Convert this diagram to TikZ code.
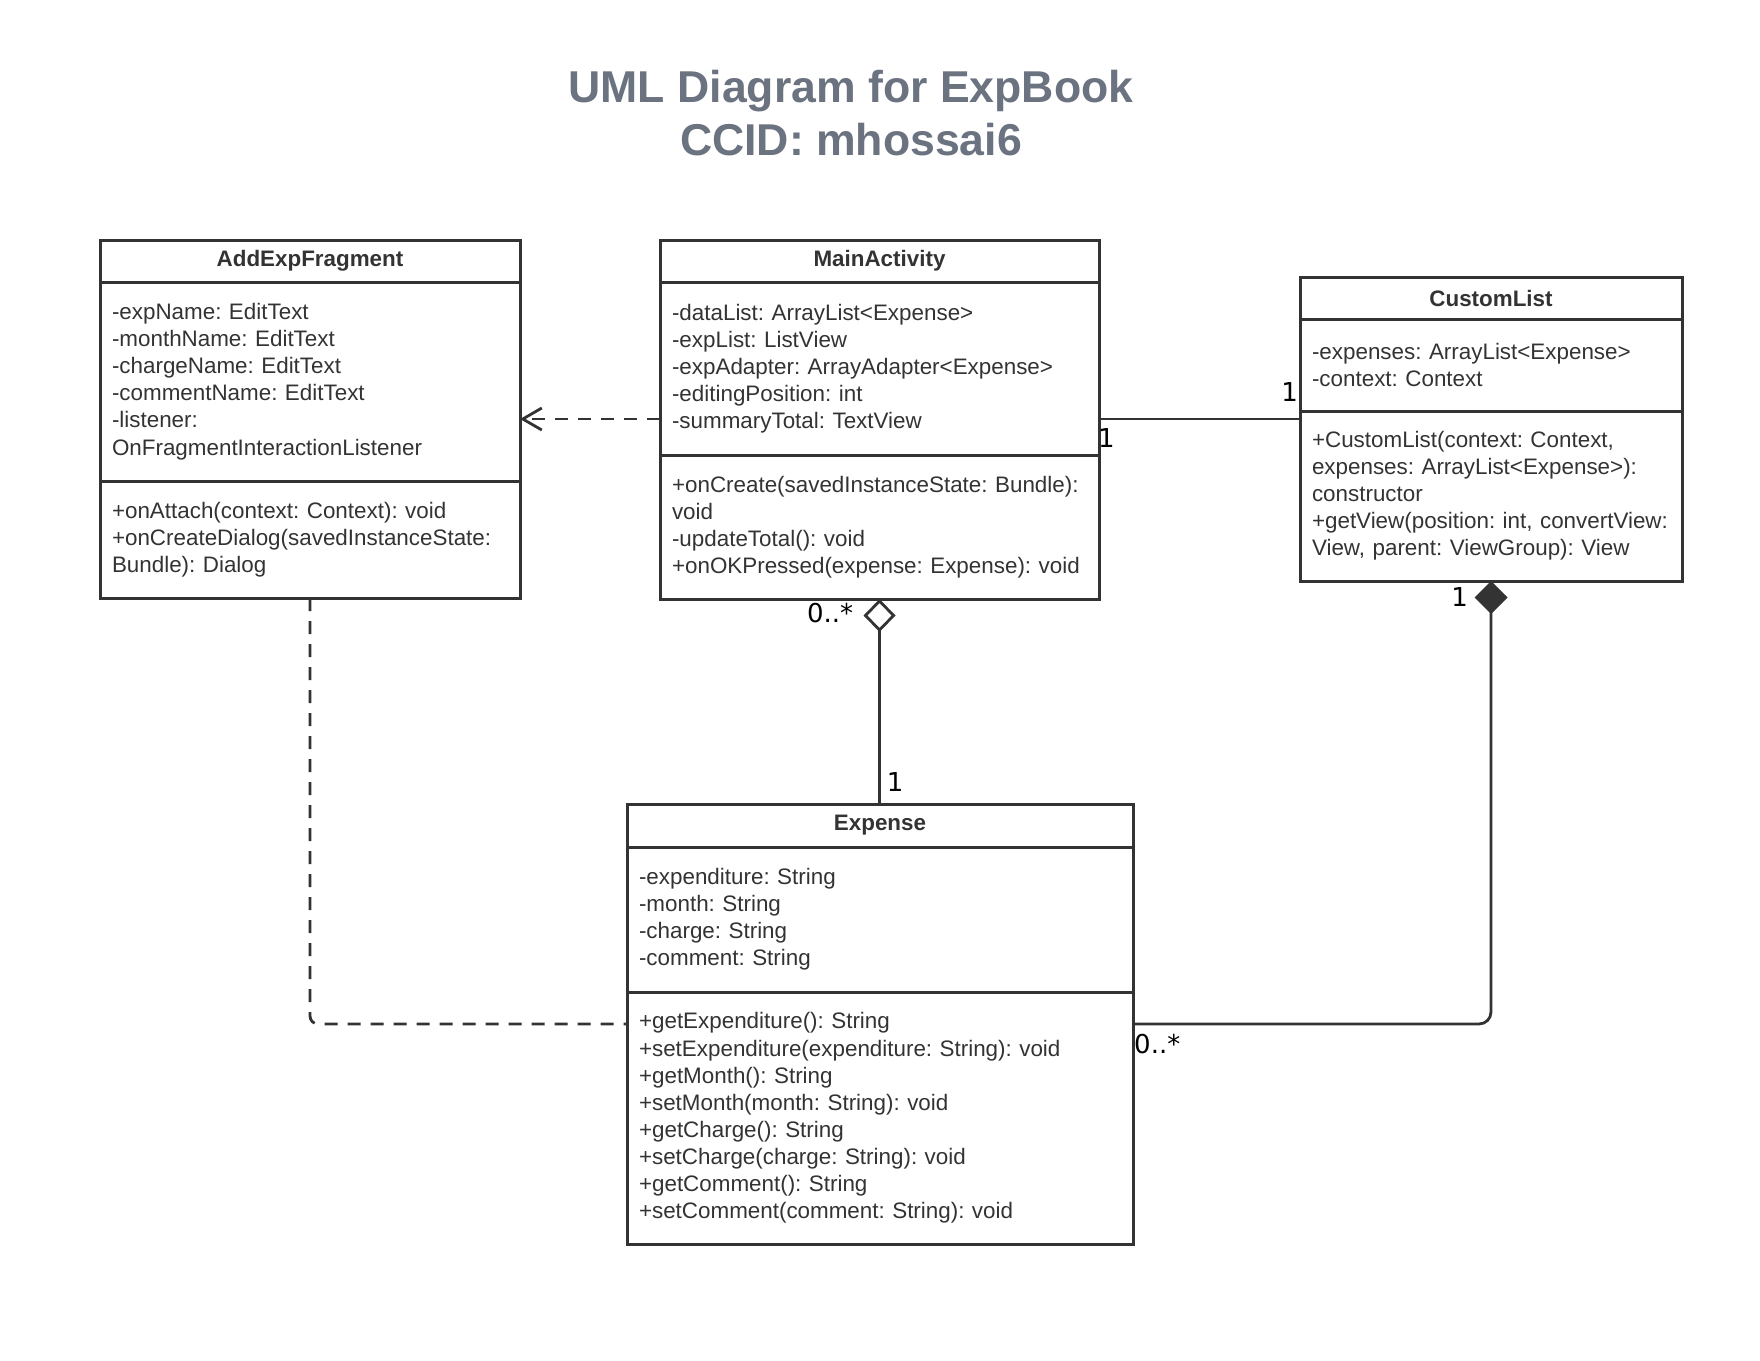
\documentclass[tikz,border=0pt]{standalone}
\usepackage{fontspec}
\setmainfont{Liberation Sans}
\newfontfamily\multfont{DejaVu Sans}
\usetikzlibrary{positioning,arrows.meta,calc}
\definecolor{umlline}{HTML}{333333}
\definecolor{titlegray}{HTML}{6B7280}

\begin{document}
\frenchspacing
\begin{tikzpicture}[x=1pt,y=-1pt,
	head/.style={draw=umlline,line width=3pt,outer sep=0pt,inner xsep=12pt,inner ysep=4pt,anchor=north west,
		minimum height=42pt,align=center,text=umlline,font=\fontsize{22.4}{27.1}\selectfont\bfseries},
	part/.style={draw=umlline,line width=3pt,outer sep=0pt,inner xsep=12pt,inner ysep=8pt,anchor=north,
		align=left,text=umlline,font=\fontsize{22.4}{27.1}\selectfont},
	mult/.style={font=\multfont\fontsize{26}{30}\selectfont,text=black,inner sep=1pt},
	conn/.style={draw=umlline,line width=2.8pt},
	dep/.style={conn,dash pattern=on 13pt off 10pt}]
\useasboundingbox (0,0) rectangle (1760,1360);

\node[font=\fontsize{44.6}{53}\selectfont\bfseries,text=titlegray,align=center] (title) at (851,113)
	{UML Diagram for ExpBook\\CCID: mhossai6};

\node[head,text width=396pt] (af) at (100,240) {AddExpFragment};
\node[part,text width=396pt,minimum height=199pt,below=0pt of af] (af-attr)
	{-expName: EditText\\-monthName: EditText\\-chargeName: EditText\\-commentName: EditText\\-listener:\\OnFragmentInteractionListener};
\node[part,text width=396pt,minimum height=117pt,below=0pt of af-attr] (af-meth)
	{+onAttach(context: Context): void\\+onCreateDialog(savedInstanceState:\\Bundle): Dialog};

\node[head,text width=415pt] (ma) at (660,240) {MainActivity};
\node[part,text width=415pt,minimum height=173pt,below=0pt of ma] (ma-attr)
	{-dataList: ArrayList<Expense>\\-expList: ListView\\-expAdapter: ArrayAdapter<Expense>\\-editingPosition: int\\-summaryTotal: TextView};
\node[part,text width=415pt,minimum height=144pt,below=0pt of ma-attr] (ma-meth)
	{+onCreate(savedInstanceState: Bundle):\\void\\-updateTotal(): void\\+onOKPressed(expense: Expense): void};

\node[head,text width=358pt] (cl) at (1300,277) {CustomList};
\node[part,text width=358pt,minimum height=92pt,below=0pt of cl] (cl-attr)
	{-expenses: ArrayList<Expense>\\-context: Context};
\node[part,text width=358pt,minimum height=170pt,below=0pt of cl-attr] (cl-meth)
	{+CustomList(context: Context,\\expenses: ArrayList<Expense>):\\constructor\\+getView(position: int, convertView:\\View, parent: ViewGroup): View};

\node[head,text width=482pt,minimum height=43pt] (ex) at (627,804) {Expense};
\node[part,text width=482pt,minimum height=145pt,below=0pt of ex] (ex-attr)
	{-expenditure: String\\-month: String\\-charge: String\\-comment: String};
\node[part,text width=482pt,minimum height=252pt,below=0pt of ex-attr] (ex-meth)
	{+getExpenditure(): String\\+setExpenditure(expenditure: String): void\\+getMonth(): String\\+setMonth(month: String): void\\+getCharge(): String\\+setCharge(charge: String): void\\+getComment(): String\\+setComment(comment: String): void};

\coordinate (dl) at ([yshift=36pt]ma-attr.south west);
\coordinate (al) at ([yshift=36pt]ma-attr.south east);
\coordinate (el) at ([yshift=-32pt]ex-meth.north west);
\coordinate (er) at ([yshift=-32pt]ex-meth.north east);

\draw[dep,-{Straight Barb[length=19pt,width=22pt]}] (dl) -- (dl -| af-attr.east);
\draw[conn,line width=2.4pt] (al) -- (al -| cl-meth.west)
	node[mult,pos=0,anchor=north west,xshift=-3pt,yshift=-7pt]{1}
	node[mult,pos=1,anchor=south east,yshift=15pt]{1};
\draw[conn,{Diamond[open,fill=white,length=33pt,width=32pt]}-] (ma-meth.south) -- (ma-meth.south |- ex.north)
	node[mult,pos=0,anchor=north east,xshift=-24pt,yshift=-2pt]{0..*}
	node[mult,pos=1,anchor=south west,xshift=5pt,yshift=10pt]{1};
\draw[conn,rounded corners=12pt,{Diamond[length=33pt,width=33pt]}-] (cl-meth.south) |- (er);
\node[mult,anchor=north east] (cl-one) at ([xshift=-22pt,yshift=-5pt]cl-meth.south) {1};
\node[mult,anchor=north west] (ex-many) at ([yshift=-9pt]er) {0..*};
\draw[dep,rounded corners=8pt] (af-meth.south) |- (el);

\end{tikzpicture}
\end{document}
